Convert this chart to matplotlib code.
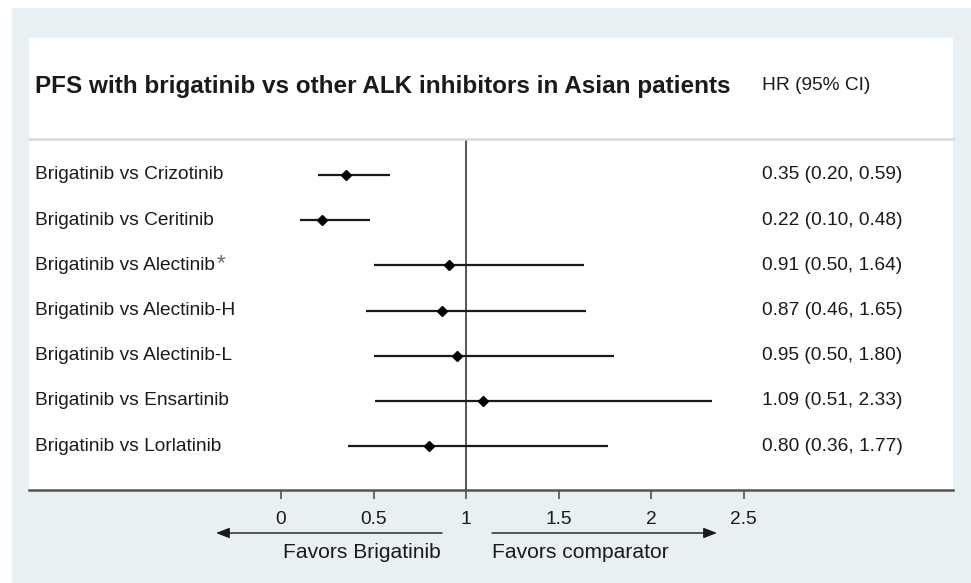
import matplotlib.pyplot as plt
import matplotlib.patches as patches
from matplotlib.lines import Line2D
from matplotlib.transforms import blended_transform_factory

plt.rcParams['font.family'] = ['Liberation Sans', 'DejaVu Sans']

# PFS hazard ratios, brigatinib vs each comparator
comparators = ["Brigatinib vs Crizotinib", "Brigatinib vs Ceritinib",
               "Brigatinib vs Alectinib", "Brigatinib vs Alectinib-H",
               "Brigatinib vs Alectinib-L", "Brigatinib vs Ensartinib",
               "Brigatinib vs Lorlatinib"]
hr = [0.35, 0.22, 0.91, 0.87, 0.95, 1.09, 0.80]
ci_low = [0.20, 0.10, 0.50, 0.46, 0.50, 0.51, 0.36]
ci_high = [0.59, 0.48, 1.64, 1.65, 1.80, 2.33, 1.77]
starred = [False, False, True, False, False, False, False]
x_ticks = [0, 0.5, 1, 1.5, 2, 2.5]
x_tick_labels = ["0", "0.5", "1", "1.5", "2", "2.5"]

W, H = 971, 583
BG = "#e9f0f3"
TXT = "#1a1a1a"
AXC = "#555555"
FS = 13.8


def fx(px):
    return px / W


def fy(py):
    return 1 - py / H


fig = plt.figure(figsize=(W / 100, H / 100), dpi=100, facecolor="white")

# light backdrop + white panel
fig.patches.append(patches.Rectangle((fx(12), 0), 1 - fx(12), fy(8),
                                     transform=fig.transFigure, facecolor=BG,
                                     edgecolor="none", zorder=-2))
fig.patches.append(patches.Rectangle((fx(29), fy(490)), fx(953) - fx(29), fy(38) - fy(490),
                                     transform=fig.transFigure, facecolor="white",
                                     edgecolor="none", zorder=-1))
fig.lines.append(Line2D([fx(29), fx(953)], [fy(139), fy(139)], transform=fig.transFigure,
                        color="#d9d9d9", lw=1.8))

# forest plot axes: x=0 at px 281, 185 px per unit
px0, ppu = 281, 185
ax = fig.add_axes([fx(29), fy(490), fx(953) - fx(29), fy(139) - fy(490)])
ax.set_facecolor("none")
ax.set_xlim((29 - px0) / ppu, (953 - px0) / ppu)
n = len(comparators)
ax.set_ylim(n - 1 + 0.974, -0.797)

rows = list(range(n))
ax.hlines(rows, ci_low, ci_high, color=TXT, lw=1.6, zorder=3)
ax.plot(hr, rows, linestyle="none", marker="D", markersize=5.2, color="black", zorder=4)
ax.axvline(1, color=AXC, lw=1.4, zorder=2)

for s in ["top", "left", "right"]:
    ax.spines[s].set_visible(False)
ax.spines["bottom"].set_color(AXC)
ax.spines["bottom"].set_linewidth(1.8)
ax.set_yticks([])
ax.set_xticks(x_ticks)
ax.set_xticklabels(x_tick_labels, fontsize=FS, color=TXT)
ax.tick_params(axis="x", direction="out", length=6.5, width=1.2, color=AXC, pad=8.5)

# row labels and HR column
tr = blended_transform_factory(fig.transFigure, ax.transData)
for i, name in enumerate(comparators):
    t = ax.text(fx(35), i, name, transform=tr, ha="left", va="center",
                fontsize=FS, color=TXT)
    if starred[i]:
        ax.annotate("*", xy=(1, 0.5), xycoords=t, xytext=(1.5, 1),
                    textcoords="offset points", ha="left", va="center",
                    fontsize=16, color="#5b6b7c")
    ax.text(fx(762), i, f"{hr[i]:.2f} ({ci_low[i]:.2f}, {ci_high[i]:.2f})",
            transform=tr, ha="left", va="center", fontsize=FS, color=TXT)

fig.text(fx(35), fy(86), "PFS with brigatinib vs other ALK inhibitors in Asian patients",
         ha="left", va="center", fontsize=17.5, fontweight="bold", color=TXT)
fig.text(fx(762), fy(86), "HR (95% CI)", ha="left", va="center", fontsize=FS, color=TXT)

# direction arrows under the axis
arrow_kw = dict(arrowstyle="-|>,head_length=0.9,head_width=0.35", color=TXT, lw=1.0,
                shrinkA=0, shrinkB=0, mutation_scale=9)
fig.add_artist(patches.FancyArrowPatch((fx(442), fy(533)), (fx(216), fy(533)),
                                       transform=fig.transFigure, **arrow_kw))
fig.add_artist(patches.FancyArrowPatch((fx(492), fy(533)), (fx(717), fy(533)),
                                       transform=fig.transFigure, **arrow_kw))
fig.text(fx(441), fy(552), "Favors Brigatinib", ha="right", va="center",
         fontsize=15.1, color=TXT)
fig.text(fx(492), fy(552), "Favors comparator", ha="left", va="center",
         fontsize=15.1, color=TXT)

fig.savefig("out.png", dpi=100, facecolor=fig.get_facecolor())
